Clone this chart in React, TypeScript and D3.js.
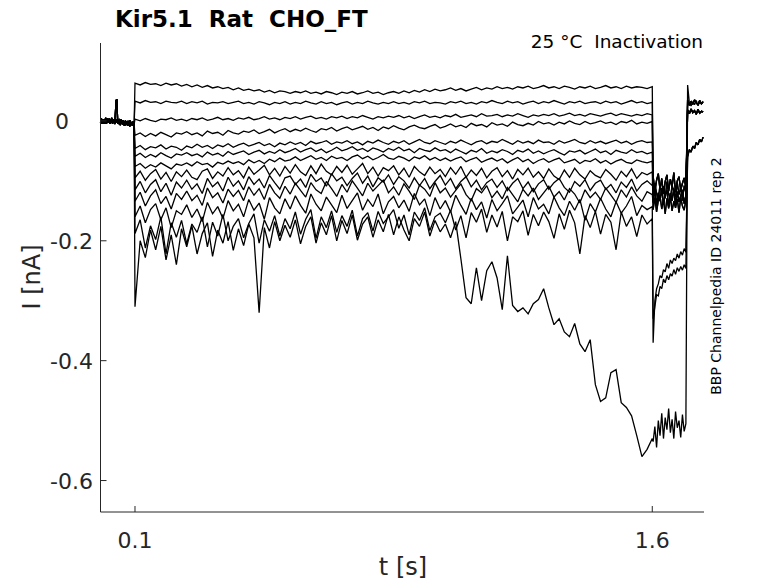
import React from "react";
import * as d3 from "d3";

// ---- time grids (s) ----
const tBase = d3.range(0, 40).map((k) => k * 0.0025); // 0 .. 0.0975
const tMain = d3.range(0, 101).map((i) => 0.1 + i * 0.015); // 0.1 .. 1.6
const tMid = d3.range(0, 20).map((j) => 1.6025 + j * 0.005); // 1.6025 .. 1.6975
const tTail = d3.range(0, 10).map((k) => 1.7025 + k * 0.005); // 1.7025 .. 1.7475

// ---- currents in pA ----
const B1 = [4,-4,2,-5,3,-2,5,-4,1,-3,4,-5,2,-1,-4,3,-2,-5,2,-1,-4,3,-6,0,2,-5,1,-7,-2,0,-6,-1,-8,-3,1,-7,-2,-5,-1,-6];
const B2 = [-3,4,-2,3,-5,2,-4,1,4,-3,3,-5,0,5,-4,2,-3,3,34,36,-5,0,3,-7,-2,1,-6,-1,-8,-3,-2,-7,0,-6,-9,-2,-7,-3,-8,-5];

const T1 = [63,60,64,61,62,59,63,60,62,58,61,57,60,56,59,55,57,54,56,52,55,51,53,50,52,48,51,47,50,49,46,49,47,50,46,48,45,49,47,44,48,46,49,45,47,50,46,48,44,47,49,46,50,47,51,48,52,49,53,50,52,55,51,54,50,53,56,52,55,53,57,54,56,53,57,55,58,54,56,59,55,57,54,58,56,53,57,55,58,54,56,59,55,57,54,58,55,57,56,54,57];
const T2 = [33,30,34,31,32,29,33,31,30,33,29,32,30,33,28,31,30,32,29,31,33,29,31,28,32,30,27,31,29,32,28,31,29,33,30,28,32,29,31,27,30,32,28,31,29,33,30,28,31,29,32,29,31,28,32,30,33,29,31,30,28,32,30,33,29,31,28,32,30,34,31,29,33,30,32,28,31,33,29,32,30,34,31,28,32,30,33,29,31,32,29,33,30,32,28,31,34,30,32,29,31];
const T3 = [3,0,4,1,-1,3,2,5,1,3,0,4,2,5,1,3,6,2,4,1,5,3,6,2,4,7,3,5,2,6,4,7,3,6,8,4,6,3,7,5,8,4,7,5,9,6,3,7,5,8,6,9,5,8,4,7,10,6,8,5,9,7,11,6,8,10,7,12,8,9,11,7,10,8,12,9,6,10,8,11,9,12,8,10,13,9,11,8,12,10,8,11,13,9,12,10,8,11,9,12,10];
const T4 = [-24,-20,-26,-21,-25,-19,-23,-27,-20,-22,-18,-23,-20,-25,-17,-21,-19,-24,-16,-20,-22,-17,-19,-15,-21,-18,-14,-20,-16,-13,-18,-14,-17,-12,-16,-19,-13,-15,-11,-17,-13,-10,-15,-12,-9,-14,-11,-16,-10,-13,-8,-12,-15,-10,-7,-11,-13,-9,-6,-12,-9,-5,-10,-7,-11,-4,-8,-6,-10,-3,-7,-5,-9,-2,-6,-8,-4,-7,-1,-5,-3,-7,-2,-5,0,-4,-6,-1,-5,-3,0,-4,-2,-6,-1,-3,1,-5,-2,-4,-1];
const T5 = [-46,-41,-48,-43,-45,-40,-47,-42,-44,-49,-42,-45,-39,-44,-41,-46,-40,-43,-38,-44,-40,-37,-42,-39,-36,-41,-38,-43,-37,-40,-35,-39,-36,-41,-34,-38,-36,-33,-39,-35,-37,-33,-38,-35,-40,-34,-37,-32,-36,-39,-34,-37,-33,-39,-35,-31,-36,-38,-33,-36,-39,-34,-37,-32,-36,-40,-35,-33,-38,-34,-36,-31,-35,-39,-33,-37,-34,-38,-32,-36,-35,-39,-33,-37,-34,-31,-36,-38,-33,-37,-34,-38,-35,-32,-37,-34,-39,-35,-33,-36,-35];
const T6 = [-59,-54,-61,-56,-60,-53,-58,-62,-55,-57,-53,-58,-55,-60,-52,-57,-54,-59,-51,-56,-53,-50,-56,-52,-49,-55,-51,-54,-48,-53,-50,-46,-52,-48,-45,-51,-47,-53,-49,-44,-50,-47,-43,-49,-46,-51,-45,-48,-52,-46,-49,-44,-50,-47,-53,-46,-49,-51,-45,-50,-48,-53,-47,-51,-55,-49,-52,-46,-54,-50,-53,-48,-51,-56,-49,-52,-47,-54,-50,-55,-51,-48,-53,-57,-50,-52,-49,-55,-51,-47,-53,-50,-56,-49,-52,-54,-48,-53,-51,-55,-52];
const T7 = [-76,-71,-79,-73,-77,-70,-75,-80,-72,-74,-70,-75,-68,-73,-71,-77,-69,-72,-67,-71,-68,-73,-65,-70,-66,-71,-64,-68,-62,-67,-65,-60,-66,-62,-58,-64,-61,-66,-59,-63,-61,-66,-60,-57,-63,-59,-65,-61,-56,-62,-64,-59,-62,-67,-60,-63,-58,-65,-61,-66,-62,-67,-63,-60,-68,-64,-61,-69,-65,-62,-67,-63,-70,-65,-61,-68,-64,-71,-66,-63,-69,-65,-62,-70,-67,-64,-71,-66,-68,-63,-70,-66,-72,-67,-64,-69,-71,-65,-68,-70,-67];
const T8 = [
  -95,-84,-99,-88,-81,-97,-86,-101,-85,-93,
  -82,-94,-98,-84,-80,-96,-85,-92,-78,-90,
  -83,-95,-77,-89,-82,-74,-90,-79,-92,-76,
  -87,-73,-85,-91,-75,-88,-72,-84,-90,-76,
  -86,-74,-89,-80,-71,-88,-77,-92,-78,-83,
  -75,-90,-79,-94,-76,-85,-91,-77,-88,-81,
  -93,-78,-89,-76,-94,-82,-91,-79,-95,-84,
  -78,-93,-83,-97,-81,-90,-79,-94,-85,-96,
  -80,-92,-98,-82,-94,-79,-90,-97,-83,-91,
  -95,-81,-89,-99,-84,-93,-80,-96,-86,-90,
  -85];
const T9 = [
  -115,-101,-120,-106,-98,-118,-104,-124,-102,-112,
  -99,-114,-105,-121,-96,-110,-102,-117,-94,-109,
  -100,-115,-93,-106,-97,-112,-91,-103,-114,-95,
  -92,-106,-97,-111,-89,-101,-95,-109,-88,-100,
  -94,-108,-96,-87,-104,-92,-110,-95,-102,-90,
  -106,-93,-100,-112,-95,-108,-96,-113,-101,-91,
  -107,-96,-113,-101,-93,-110,-99,-115,-103,-97,
  -111,-100,-116,-104,-96,-113,-102,-118,-105,-98,
  -114,-103,-96,-111,-119,-101,-109,-98,-116,-104,
  -99,-114,-106,-120,-102,-111,-97,-117,-106,-100,
  -108];
const T10 = [
  -134,-119,-142,-125,-115,-138,-126,-147,-121,-131,
  -117,-133,-124,-141,-112,-128,-120,-137,-114,-126,
  -116,-133,-110,-124,-113,-131,-106,-120,-129,-109,
  -122,-104,-116,-127,-103,-115,-121,-101,-113,-126,
  -106,-119,-100,-112,-125,-104,-117,-108,-99,-120,
  -110,-124,-105,-117,-131,-107,-114,-126,-103,-120,
  -112,-127,-116,-105,-123,-133,-113,-120,-108,-128,
  -117,-130,-111,-123,-135,-114,-125,-112,-131,-120,
  -109,-127,-118,-132,-113,-122,-137,-115,-128,-119,
  -131,-112,-124,-136,-115,-127,-110,-125,-134,-118,
  -123];
const T11 = [
  -160,-142,-170,-148,-138,-165,-145,-178,-150,-156,
  -140,-161,-147,-168,-136,-155,-143,-163,-133,-150,
  -139,-160,-131,-149,-137,-164,-128,-145,-155,-130,
  -147,-125,-141,-154,-122,-139,-150,-127,-140,-153,
  -124,-146,-133,-120,-149,-131,-143,-122,-155,-135,
  -126,-145,-132,-151,-121,-140,-130,-158,-128,-147,
  -133,-152,-124,-141,-156,-129,-148,-135,-162,-131,
  -150,-138,-125,-155,-144,-132,-160,-128,-147,-139,
  -155,-127,-145,-158,-134,-149,-131,-166,-138,-152,
  -129,-147,-160,-135,-154,-142,-126,-158,-141,-148,
  -143];
const T12 = [
  -188,-165,-212,-175,-198,-160,-222,-170,-194,-166,
  -205,-172,-186,-160,-210,-169,-192,-156,-200,-176,
  -163,-195,-171,-155,-204,-165,-184,-158,-192,-163,
  -180,-152,-189,-164,-148,-196,-160,-178,-150,-186,
  -158,-176,-149,-192,-163,-153,-184,-151,-171,-160,
  -148,-179,-157,-190,-152,-166,-145,-183,-160,-154,
  -170,-149,-182,-158,-195,-153,-169,-147,-186,-157,
  -177,-151,-200,-160,-168,-150,-191,-156,-175,-152,
  -168,-196,-155,-181,-149,-170,-222,-158,-178,-151,
  -189,-156,-169,-215,-152,-176,-160,-193,-157,-172,
  -163];
const T13 = [
  -310,-200,-228,-182,-215,-176,-232,-190,-240,-180,
  -210,-175,-222,-188,-170,-226,-182,-204,-168,-216,
  -180,-208,-172,-195,-320,-178,-212,-168,-200,-174,
  -194,-165,-205,-176,-160,-204,-170,-190,-158,-200,
  -166,-188,-157,-199,-172,-160,-194,-165,-185,-156,
  -190,-160,-182,-200,-163,-176,-152,-192,-166,-185,
  -172,-195,-168,-230,-295,-305,-245,-300,-250,-235,
  -262,-315,-225,-308,-318,-312,-322,-305,-298,-280,
  -312,-340,-330,-352,-360,-338,-372,-385,-365,-440,
  -468,-462,-420,-415,-470,-478,-492,-525,-560,-548,
  -530];

const M1 = [-92,-118,-99,-88,-115,-96,-122,-101,-90,-117,-97,-110,-86,-119,-100,-93,-116,-104,-95,-112];
const M2 = [-126,-104,-121,-132,-106,-124,-109,-129,-101,-122,-131,-107,-119,-127,-103,-123,-111,-133,-108,-120];
const M3 = [-136,-114,-141,-120,-134,-112,-139,-123,-116,-143,-121,-133,-113,-140,-118,-135,-125,-115,-138,-124];
const M4 = [-148,-128,-152,-133,-125,-147,-131,-155,-129,-146,-127,-150,-134,-145,-130,-153,-128,-142,-149,-132];
const R1 = [-370,-300,-280,-272,-258,-262,-248,-252,-238,-246,-232,-238,-229,-233,-222,-229,-218,-224,-213,-219];
const R2 = [-330,-310,-290,-292,-276,-280,-264,-270,-258,-265,-255,-259,-248,-256,-245,-251,-243,-249,-240,-246];
const BM = [-535,-510,-545,-500,-525,-488,-530,-495,-515,-480,-520,-498,-530,-485,-512,-500,-528,-490,-518,-505];

const A0 = [60,30,25,32,27,34,26,31,28,33];
const A1 = [35,26,33,28,35,30,27,34,29,31];
const A2 = [18,12,20,14,17,11,19,13,16,15];
const A3 = [-60,-48,-52,-42,-46,-36,-40,-31,-35,-27];

const sweeps = [
  { base: B1, main: T1, mid: M1, tail: A1 },
  { base: B2, main: T2, mid: M3, tail: A2 },
  { base: B1, main: T3, mid: M2, tail: A1 },
  { base: B2, main: T4, mid: M4, tail: A2 },
  { base: B1, main: T5, mid: M1, tail: A2 },
  { base: B2, main: T6, mid: M3, tail: A1 },
  { base: B1, main: T7, mid: M2, tail: A2 },
  { base: B2, main: T8, mid: M4, tail: A1 },
  { base: B1, main: T9, mid: M1, tail: A3 },
  { base: B2, main: T10, mid: M3, tail: A2 },
  { base: B1, main: T11, mid: R2, tail: A3 },
  { base: B2, main: T12, mid: R1, tail: A3 },
  { base: B1, main: T13, mid: BM, tail: A0 },
];

const xTicks = [0.1, 1.6];
const yTicks = [0, -0.2, -0.4, -0.6];
const yTickLabels = ["0", "-0.2", "-0.4", "-0.6"];

const title = "Kir5.1  Rat  CHO_FT";
const subtitle = "25 °C  Inactivation";
const sideNote = "BBP Channelpedia ID 24011 rep 2";

export default function App() {
  const W = 778, H = 583;
  const x = d3.scaleLinear().domain([0, 1.75]).range([100.5, 704]);
  const y = d3.scaleLinear().domain([-0.6525, 0.13]).range([512, 43]);
  const line = d3.line<[number, number]>().x((d) => x(d[0])).y((d) => y(d[1] / 1000));

  const paths = sweeps.map((s) => {
    const pts: [number, number][] = [];
    tBase.forEach((t, k) => pts.push([t, s.base[k]]));
    tMain.forEach((t, i) => pts.push([t, s.main[i]]));
    tMid.forEach((t, j) => pts.push([t, s.mid[j]]));
    tTail.forEach((t, k) => pts.push([t, s.tail[k]]));
    return line(pts) as string;
  });

  const font = "'DejaVu Sans', sans-serif";
  const axisColor = "#262626";
  const [x0, x1] = x.range();
  const [yb, yt] = y.range();

  return (
    <svg width={W} height={H} style={{ position: "absolute", left: 0, top: 0, background: "#fff" }}>
      <rect x={0} y={0} width={W} height={H} fill="#fff" />
      <g fill="none" stroke="#000" strokeWidth={1.3} strokeLinejoin="miter" strokeMiterlimit={2}>
        {paths.map((d, i) => (
          <path key={i} d={d} />
        ))}
      </g>
      {/* axes */}
      <line x1={x0} x2={x0} y1={yt} y2={yb} stroke={axisColor} strokeWidth={1} />
      <line x1={x0} x2={x1} y1={yb} y2={yb} stroke={axisColor} strokeWidth={1} />
      {xTicks.map((t) => (
        <g key={t}>
          <line x1={x(t)} x2={x(t)} y1={yb} y2={yb - 6} stroke={axisColor} strokeWidth={1} />
          <text x={x(t)} y={548} textAnchor="middle" fontFamily={font} fontSize={22} fill={axisColor}>
            {String(t)}
          </text>
        </g>
      ))}
      {yTicks.map((v, i) => (
        <g key={v}>
          <line x1={x0} x2={x0 + 6} y1={y(v)} y2={y(v)} stroke={axisColor} strokeWidth={1} />
          <text
            x={v === 0 ? 69 : 93}
            y={y(v) + 8}
            textAnchor="end"
            fontFamily={font}
            fontSize={22}
            fill={axisColor}
          >
            {yTickLabels[i]}
          </text>
        </g>
      ))}
      <text x={403} y={575} textAnchor="middle" fontFamily={font} fontSize={24} fill={axisColor}>
        t [s]
      </text>
      <text
        transform="translate(40,277) rotate(-90)"
        textAnchor="middle"
        fontFamily={font}
        fontSize={24}
        fill={axisColor}
      >
        I [nA]
      </text>
      <text x={115} y={27} fontFamily={font} fontSize={23} fontWeight="bold" fill="#000" style={{ whiteSpace: "pre" }}>
        {title}
      </text>
      <text x={703} y={48} textAnchor="end" fontFamily={font} fontSize={18.5} fill="#000" style={{ whiteSpace: "pre" }}>
        {subtitle}
      </text>
      <text
        transform="translate(721,276) rotate(-90)"
        textAnchor="middle"
        fontFamily={font}
        fontSize={14}
        fill="#000"
      >
        {sideNote}
      </text>
    </svg>
  );
}
